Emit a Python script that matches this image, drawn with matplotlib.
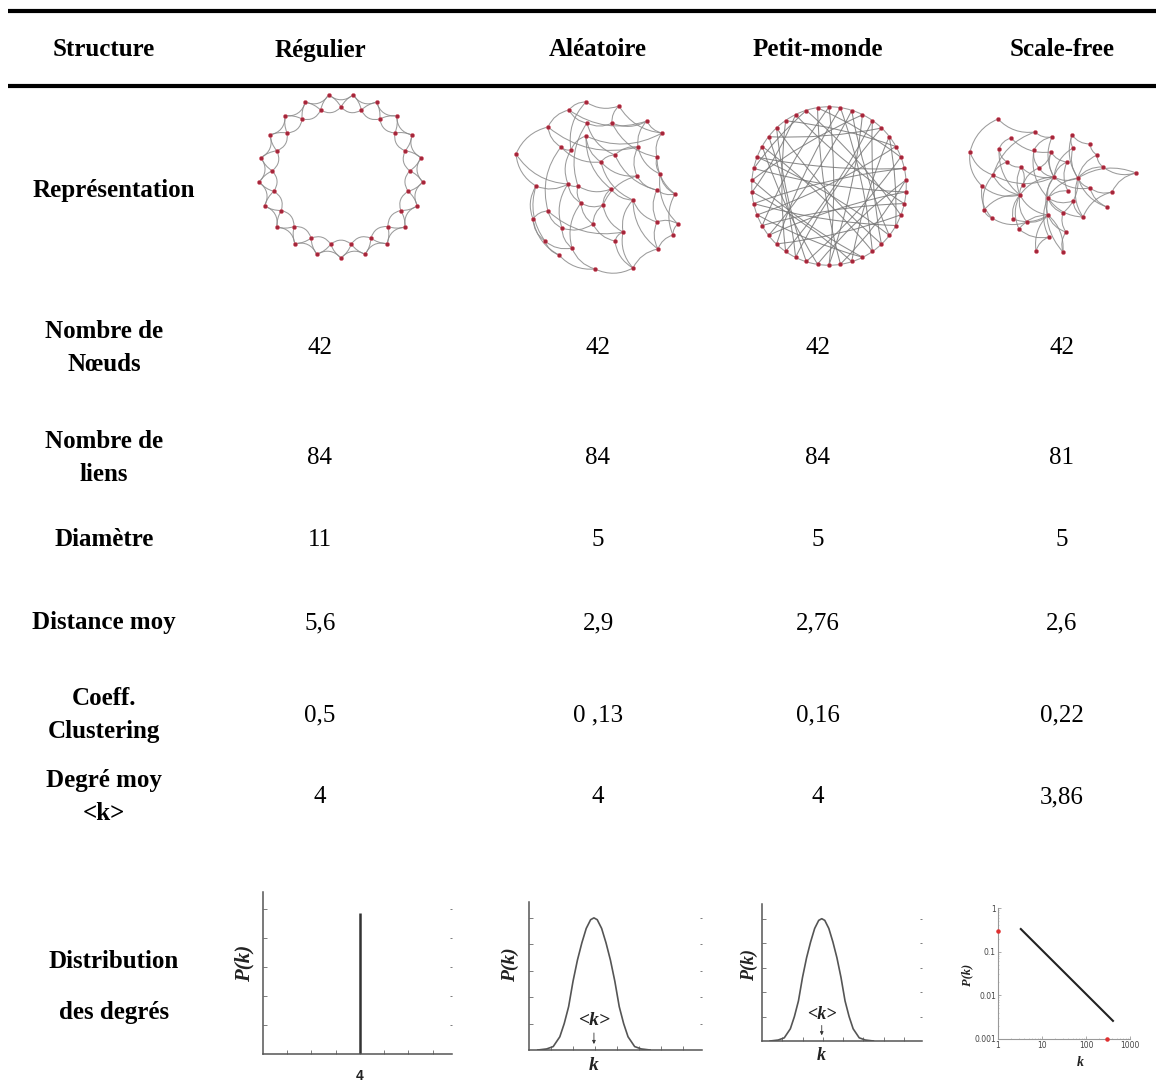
import numpy as np
import matplotlib.pyplot as plt
from matplotlib.patches import FancyArrowPatch

W, H = 1156, 1084
SERIF = 'Liberation Serif'

# ---- table content ----
structures = ['Régulier', 'Aléatoire', 'Petit-monde', 'Scale-free']
row_labels = ['Nombre de\nNœuds', 'Nombre de\nliens', 'Diamètre', 'Distance moy',
              'Coeff.\nClustering', 'Degré moy\n<k>']
val_regulier = ['42', '84', '11', '5,6', '0,5', '4']
val_aleatoire = ['42', '84', '5', '2,9', '0 ,13', '4']
val_petit_monde = ['42', '84', '5', '2,76', '0,16', '4']
val_scale_free = ['42', '81', '5', '2,6', '0,22', '3,86']

# ---- networks ----
n_nodes = 42
ring_radius_outer = 82
ring_radius_inner = 69

# aleatoire: node positions (px inside its box, y down)
rand_x = [81, 114, 64, 43, 82, 107, 142, 81, 157, 11, 56, 66, 133, 110, 152, 96,
          132, 155, 31, 63, 73, 106, 152, 170, 128, 76, 98, 43, 28, 57, 88, 173,
          152, 118, 168, 40, 67, 110, 153, 54, 90, 128]
rand_y = [7, 11, 15, 32, 28, 28, 26, 41, 38, 59, 52, 55, 52, 60, 62, 67,
          81, 79, 91, 89, 91, 94, 95, 99, 105, 108, 110, 116, 124, 133, 129, 129,
          127, 137, 140, 146, 153, 146, 154, 160, 174, 173]
rand_edges = [(0, 1), (0, 2), (0, 11), (1, 5), (1, 8), (2, 3), (2, 4), (2, 6),
              (3, 9), (3, 10), (3, 12), (4, 5), (4, 13), (4, 20), (5, 6), (5, 14),
              (6, 8), (6, 12), (7, 8), (7, 11), (7, 15), (7, 21), (8, 14), (9, 18),
              (9, 19), (10, 11), (10, 15), (10, 27), (11, 19), (12, 13), (12, 16),
              (12, 17), (13, 15), (13, 22), (14, 17), (14, 23), (15, 16), (15, 24),
              (16, 22), (16, 26), (17, 23), (17, 31), (18, 19), (18, 28), (18, 35),
              (19, 20), (19, 29), (20, 21), (20, 25), (21, 24), (21, 26), (22, 23),
              (22, 32), (23, 34), (24, 32), (24, 33), (25, 26), (25, 30), (25, 36),
              (26, 30), (27, 28), (27, 29), (27, 33), (28, 35), (28, 39), (29, 30),
              (29, 36), (30, 37), (31, 32), (31, 34), (32, 38), (33, 37), (33, 41),
              (34, 38), (35, 36), (35, 39), (36, 40), (37, 41), (38, 41), (39, 40),
              (40, 41), (24, 38), (26, 33), (19, 25)]

# petit-monde: ring neighbours plus shortcuts
sw_shortcuts = [(0, 14), (1, 22), (2, 9), (3, 30), (4, 17), (5, 26), (6, 37), (7, 20),
                (8, 33), (10, 24), (11, 3), (12, 28), (13, 35), (15, 40), (16, 29),
                (18, 6), (19, 34), (21, 39), (23, 11), (25, 41), (27, 8), (29, 2),
                (31, 15), (32, 20), (33, 12), (34, 1), (36, 23), (37, 18), (38, 26),
                (39, 10), (40, 27), (41, 16), (5, 19), (9, 31), (13, 24), (17, 38),
                (21, 0), (25, 7), (28, 36), (30, 14), (35, 4), (22, 32)]

# scale-free: node positions (px inside its box, y down)
sf_x = [38, 75, 51, 92, 112, 130, 10, 39, 74, 91, 113, 137, 47, 61, 79, 107,
        143, 176, 33, 94, 118, 22, 63, 130, 152, 60, 88, 108, 113, 24, 32, 53,
        67, 88, 103, 123, 147, 59, 89, 106, 76, 103]
sf_y = [14, 27, 33, 32, 30, 39, 47, 44, 45, 47, 43, 50, 57, 62, 63, 57,
        62, 68, 70, 72, 73, 81, 80, 83, 87, 90, 93, 86, 96, 105, 113, 114,
        117, 110, 108, 112, 102, 124, 132, 127, 146, 147]
sf_edges = [(0, 1), (0, 6), (1, 3), (1, 18), (2, 7), (2, 9), (3, 19), (3, 8),
            (4, 5), (4, 10), (4, 20), (5, 11), (6, 18), (6, 21), (7, 12), (7, 25),
            (8, 14), (8, 26), (9, 19), (9, 15), (10, 19), (10, 20), (11, 20), (11, 16),
            (12, 13), (13, 19), (13, 25), (14, 19), (14, 22), (15, 19), (15, 27),
            (16, 20), (16, 17), (17, 20), (17, 24), (18, 19), (18, 25), (18, 29),
            (19, 20), (19, 25), (19, 26), (19, 33), (19, 23), (20, 23), (20, 26),
            (20, 36), (20, 35), (21, 25), (21, 30), (22, 25), (23, 24), (23, 36),
            (24, 35), (25, 31), (25, 32), (25, 37), (25, 33), (25, 29), (26, 28),
            (26, 34), (26, 38), (26, 41), (26, 35), (27, 26), (28, 35), (29, 30),
            (30, 32), (31, 33), (32, 33), (33, 39), (33, 40), (33, 37), (34, 39),
            (37, 38), (38, 40), (39, 41), (12, 18), (22, 13), (34, 20), (41, 33),
            (14, 9)]

# ---- degree distributions ----
reg_k = [4]
reg_p = [4.87]
dist_ticks_k = [1, 2, 3, 4, 5, 6, 7]
dist_ticks_p = [1, 2, 3, 4, 5]
bell_k = [0.4, 0.8, 1.1, 1.4, 1.6, 1.8, 2.0, 2.2, 2.4, 2.6, 2.8, 2.95,
          3.1, 3.3, 3.5, 3.7, 3.9, 4.1, 4.3, 4.5, 4.8, 5.1, 5.5]
bell_p = [0.0, 0.04, 0.13, 0.5, 1.0, 1.64, 2.6, 3.4, 4.05, 4.6, 4.93, 5.0,
          4.93, 4.6, 4.05, 3.4, 2.6, 1.64, 1.0, 0.5, 0.13, 0.04, 0.0]
mean_k = 2.95
sf_k = [3.3, 410]
sf_p = [0.33, 0.0026]
sf_mark_k = [1, 300]
sf_mark_p = [0.3, 0.001]
sf_ticks_k = [1, 10, 100, 1000]
sf_ticks_p = [0.001, 0.01, 0.1, 1]

fig = plt.figure(figsize=(W / 100, H / 100), dpi=100)
ax = fig.add_axes([0, 0, 1, 1])
ax.set_xlim(0, W)
ax.set_ylim(H, 0)
ax.axis('off')


def px_axes(x0, y0, x1, y1):
    return fig.add_axes([x0 / W, 1 - y1 / H, (x1 - x0) / W, (y1 - y0) / H])


# rules
ax.plot([8, W], [11, 11], color='black', lw=3, solid_capstyle='butt')
ax.plot([8, W], [86, 86], color='black', lw=3, solid_capstyle='butt')

# header
col_x = [320, 598, 818, 1062]
ax.text(104, 50, 'Structure', ha='center', va='center', family=SERIF,
        fontsize=18, fontweight='bold')
for x, name in zip(col_x, structures):
    ax.text(x, 50, name, ha='center', va='center', family=SERIF,
            fontsize=18, fontweight='bold')

ax.text(114, 190, 'Représentation', ha='center', va='center', family=SERIF,
        fontsize=18, fontweight='bold')
ax.text(114, 961, 'Distribution', ha='center', va='center', family=SERIF,
        fontsize=18, fontweight='bold')
ax.text(114, 1013, 'des degrés', ha='center', va='center', family=SERIF,
        fontsize=18, fontweight='bold')

row_y = [348, 458, 540, 623, 715, 797]
for y, lab in zip(row_y, row_labels):
    ax.text(104, y, lab, ha='center', va='center', family=SERIF,
            fontsize=18, fontweight='bold', linespacing=1.6)
for x, vals in zip(col_x, [val_regulier, val_aleatoire, val_petit_monde, val_scale_free]):
    for y, v in zip(row_y, vals):
        ax.text(x, y, v, ha='center', va='center', family=SERIF, fontsize=18)


# ---- network drawings ----
EDGE = '#8a8a8a'
NODE = '#a3263a'


def draw_edges(a, xs, ys, edges, rad, lw=0.75, color=EDGE):
    for i, j in edges:
        a.add_patch(FancyArrowPatch((xs[i], ys[i]), (xs[j], ys[j]), arrowstyle='-',
                                    connectionstyle=f'arc3,rad={rad}', color=color,
                                    lw=lw, shrinkA=0, shrinkB=0, alpha=0.85))


def draw_nodes(a, xs, ys):
    a.scatter(xs, ys, s=9, color=NODE, edgecolors='#e06070', linewidths=0.3, zorder=3)


# regulier: ring lattice
ax_reg = px_axes(246, 84, 436, 268)
ax_reg.set_xlim(-95, 95)
ax_reg.set_ylim(-92, 92)
ax_reg.axis('off')
ang = np.deg2rad(90 + np.arange(n_nodes) * 360 / n_nodes)
rr = np.where(np.arange(n_nodes) % 2 == 0, ring_radius_inner, ring_radius_outer)
reg_x = rr * np.cos(ang)
reg_y = rr * np.sin(ang)
draw_edges(ax_reg, reg_x, reg_y, [(i, (i + 1) % n_nodes) for i in range(n_nodes)], 0.15)
draw_edges(ax_reg, reg_x, reg_y, [(i, (i + 2) % n_nodes) for i in range(n_nodes)], -0.4)
draw_nodes(ax_reg, reg_x, reg_y)

# aleatoire
ax_rand = px_axes(505, 95, 690, 280)
ax_rand.set_xlim(0, 185)
ax_rand.set_ylim(185, 0)
ax_rand.axis('off')
draw_edges(ax_rand, rand_x, rand_y, rand_edges, 0.25)
draw_nodes(ax_rand, rand_x, rand_y)

# petit-monde
ax_sw = px_axes(739, 96, 919, 276)
ax_sw.set_xlim(-90, 90)
ax_sw.set_ylim(-90, 90)
ax_sw.axis('off')
sw_x = 77 * np.cos(ang)
sw_y = 79 * np.sin(ang)
draw_edges(ax_sw, sw_x, sw_y, [(i, (i + 1) % n_nodes) for i in range(n_nodes)], 0.1)
draw_edges(ax_sw, sw_x, sw_y, sw_shortcuts, 0.06, lw=0.75, color='#777777')
draw_nodes(ax_sw, sw_x, sw_y)

# scale-free
ax_sf_net = px_axes(960, 105, 1145, 265)
ax_sf_net.set_xlim(0, 185)
ax_sf_net.set_ylim(160, 0)
ax_sf_net.axis('off')
draw_edges(ax_sf_net, sf_x, sf_y, sf_edges, 0.25)
draw_nodes(ax_sf_net, sf_x, sf_y)


# ---- degree distribution plots ----
def style_dist(a, xmax):
    a.set_xlim(0, xmax)
    a.set_ylim(0, 5.6)
    a.patch.set_alpha(0)
    for s in ['top', 'right']:
        a.spines[s].set_visible(False)
    for s in ['left', 'bottom']:
        a.spines[s].set_color('#555555')
        a.spines[s].set_linewidth(1.1)
    a.set_xticks(dist_ticks_k)
    a.set_yticks(dist_ticks_p)
    a.tick_params(direction='in', length=3, width=0.6, color='#666666',
                  labelleft=False, labelbottom=False, right=True)
    for t in a.yaxis.get_major_ticks():
        t.tick2line.set_color('#e8e8e8')
        t.tick2line.set_markersize(1.5)


ax_d1 = px_axes(263, 892, 452, 1054)
style_dist(ax_d1, 7.8)
ax_d1.vlines(reg_k, 0, reg_p, color='#333333', lw=1.8)
ax.text(245, 963, 'P(k)', rotation=90, ha='center', va='center', family=SERIF,
        fontsize=15, fontweight='bold', fontstyle='italic', color='#222222')
ax.text(360, 1076, '4', ha='center', va='center', fontsize=10, fontweight='bold',
        family='Liberation Sans', color='#222222')

for box, xmax, lab_x, k_y, fs in [((529, 902, 702, 1050), 7.86, 510, 1066, 14),
                                  ((762, 904, 922, 1041), 7.9, 749, 1055, 13)]:
    a = px_axes(*box)
    style_dist(a, xmax)
    a.plot(bell_k, bell_p, color='#555555', lw=1.2)
    a.text(mean_k, 1.1, '<k>', ha='center', va='center', family=SERIF, fontsize=fs,
           fontweight='bold', fontstyle='italic', color='#222222')
    a.annotate('', xy=(mean_k, 0.12), xytext=(mean_k, 0.75),
               arrowprops=dict(arrowstyle='-|>', lw=0.6, color='#333333', mutation_scale=5))
    mid_x = box[0] + (box[2] - box[0]) * mean_k / xmax
    ax.text(lab_x, 965, 'P(k)', rotation=90, ha='center', va='center', family=SERIF,
            fontsize=fs, fontweight='bold', fontstyle='italic', color='#222222')
    ax.text(mid_x, k_y, 'k', ha='center', va='center', family=SERIF, fontsize=fs,
            fontweight='bold', fontstyle='italic', color='#222222')

ax_sf = px_axes(998, 908, 1130, 1039)
ax_sf.set_xscale('log')
ax_sf.set_yscale('log')
ax_sf.set_xlim(1, 1000)
ax_sf.set_ylim(0.001, 1)
ax_sf.patch.set_alpha(0)
ax_sf.plot(sf_k, sf_p, color='#222222', lw=1.5)
ax_sf.scatter(sf_mark_k, sf_mark_p, s=5, color='#e03030', zorder=3, clip_on=False)
for s in ['top', 'right']:
    ax_sf.spines[s].set_visible(False)
for s in ['left', 'bottom']:
    ax_sf.spines[s].set_color('#999999')
    ax_sf.spines[s].set_linewidth(0.8)
    ax_sf.spines[s].set_linestyle((0, (2, 1)))
ax_sf.set_xticks(sf_ticks_k)
ax_sf.set_xticklabels([str(v) for v in sf_ticks_k])
ax_sf.set_yticks(sf_ticks_p)
ax_sf.set_yticklabels(['0.001', '0.01', '0.1', '1'])
ax_sf.tick_params(which='major', direction='in', length=2, width=0.5, color='#888888',
                  labelsize=5.5, labelcolor='#444444', pad=1.5)
ax_sf.tick_params(which='minor', direction='in', length=1, width=0.4, color='#aaaaaa')
ax.text(967, 975, 'P(k)', rotation=90, ha='center', va='center', family=SERIF,
        fontsize=9, fontweight='bold', fontstyle='italic', color='#222222')
ax.text(1080, 1063, 'k', ha='center', va='center', family=SERIF, fontsize=10,
        fontweight='bold', fontstyle='italic', color='#222222')

fig.savefig('out.png', dpi=100)
